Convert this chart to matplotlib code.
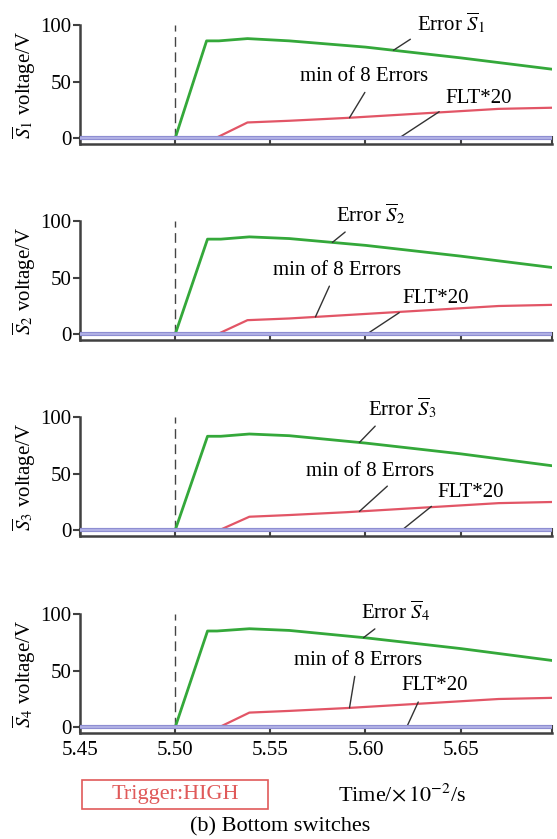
import numpy as np
import matplotlib
matplotlib.use('Agg')
import matplotlib.pyplot as plt
from matplotlib.patches import Rectangle

plt.rcParams['font.family'] = ['Liberation Serif', 'DejaVu Serif']
plt.rcParams['mathtext.fontset'] = 'stix'

# time axis (x 10^-2 s)
tGreen = [[5.45, 5.50, 5.5165, 5.523, 5.538, 5.56, 5.60, 5.65, 5.698],
          [5.45, 5.50, 5.517, 5.524, 5.539, 5.56, 5.60, 5.65, 5.698],
          [5.45, 5.50, 5.517, 5.524, 5.539, 5.56, 5.60, 5.65, 5.698],
          [5.45, 5.50, 5.517, 5.522, 5.539, 5.56, 5.60, 5.65, 5.698]]
errGreen = [[0, 0, 86, 86, 88, 86, 80.5, 71, 61],
            [0, 0, 84, 84, 86, 84.5, 78.5, 69, 59],
            [0, 0, 83, 83, 85, 83.5, 77, 67.5, 57],
            [0, 0, 85, 85, 87, 85.5, 79, 69.5, 59]]

tRed = [[5.45, 5.521, 5.538, 5.56, 5.59, 5.63, 5.67, 5.698],
        [5.45, 5.522, 5.538, 5.56, 5.59, 5.64, 5.67, 5.698],
        [5.45, 5.523, 5.539, 5.56, 5.59, 5.64, 5.67, 5.698],
        [5.45, 5.523, 5.539, 5.56, 5.59, 5.64, 5.67, 5.698]]
minErr = [[0, 0, 14, 15.5, 18, 22, 26, 27],
          [0, 0, 12.5, 14, 17, 22, 25, 26],
          [0, 0, 12, 13.5, 16, 21, 24, 25],
          [0, 0, 13, 14.5, 17, 22, 25, 26]]

tFlt = [5.45, 5.698]
flt = [0, 0]

# annotation spots: (tip x, text x, text y, where the leader meets the text)
errNote = [(5.6147, 5.6447, 102, 0.0), (5.5826, 5.6026, 106, 0.23),
           (5.5968, 5.6195, 108, 0.18), (5.599, 5.6158, 102.5, 0.3)]
minNote = [(5.5916, 5.599, 54.5, 0.54), (5.5737, 5.5853, 56.7, 0.46),
           (5.5968, 5.6026, 52.3, 0.68), (5.5916, 5.5963, 59.4, 0.48)]
fltNote = [(5.6174, 5.6595, 35.5, 0.0), (5.6005, 5.6368, 32, 0.07),
           (5.619, 5.6553, 33.8, 0.0), (5.6216, 5.6363, 36.5, 0.3)]

xTicks = [5.45, 5.50, 5.55, 5.60, 5.65]
xTickLabels = ['5.45', '5.50', '5.55', '5.60', '5.65']

W, H = 557, 839
fig = plt.figure(figsize=(W / 100, H / 100), dpi=100)

axBottoms = [144, 340, 536, 733]
axHeight = 119
left, right = 80, 552

green = '#34a83a'
red = '#e25566'
blue = '#b0b0e4'
spine = '#404040'

for i in range(4):
	ax = fig.add_axes([left / W, 1 - axBottoms[i] / H, (right - left) / W, axHeight / H])
	ax.plot(tGreen[i], errGreen[i], color=green, lw=2, zorder=3)
	ax.plot(tRed[i], minErr[i], color=red, lw=1.6, zorder=3)
	ax.plot(tFlt, flt, color='#8a8ad0', lw=3, zorder=4)
	ax.plot(tFlt, flt, color=blue, lw=1.6, zorder=4)
	ax.plot([5.50, 5.50], [0, 100], color='#444444', lw=1, ls=(0, (7, 4)), zorder=2)

	ax.set_xlim(5.45, 5.698)
	ax.set_ylim(-5, 100)
	for s in ['top', 'right']:
		ax.spines[s].set_visible(False)
	for s in ['left', 'bottom']:
		ax.spines[s].set_color(spine)
		ax.spines[s].set_linewidth(1.8)
	ax.spines['left'].set_bounds(-5, 100)
	ax.set_yticks([0, 50, 100])
	ax.set_xticks(xTicks + [5.698])
	ax.tick_params(axis='y', direction='out', length=5, width=1.5, color=spine, labelsize=15, pad=1)
	ax.tick_params(axis='x', direction='in', length=6, width=1.5, color=spine, labelsize=15, pad=6)
	if i == 3:
		ax.set_xticklabels(xTickLabels + [''])
	else:
		ax.set_xticklabels([])
	ax.set_ylabel(r'$\overline{S}_%d$ voltage/V' % (i + 1), fontsize=15)
	ax.yaxis.set_label_coords(-0.09, 0.5)

	lineProps = dict(arrowstyle='-', color='#333333', lw=1, shrinkA=3, shrinkB=0)
	tx, px, py, rp = errNote[i]
	ax.annotate(r'Error $\overline{S}_%d$' % (i + 1), xy=(tx, np.interp(tx, tGreen[i], errGreen[i])),
		xytext=(px, py), ha='center', va='center', fontsize=15, annotation_clip=False,
		arrowprops=dict(lineProps, relpos=(rp, 0)))
	tx, px, py, rp = minNote[i]
	ax.annotate('min of 8 Errors', xy=(tx, np.interp(tx, tRed[i], minErr[i])),
		xytext=(px, py), ha='center', va='center', fontsize=15,
		arrowprops=dict(lineProps, relpos=(rp, 0)))
	tx, px, py, rp = fltNote[i]
	ax.annotate('FLT*20', xy=(tx, 0), xytext=(px, py), ha='center', va='center', fontsize=15,
		arrowprops=dict(lineProps, relpos=(rp, 0)))

# trigger box and captions
fig.patches.append(Rectangle((82 / W, 1 - 809 / H), 186 / W, 29 / H, transform=fig.transFigure,
	facecolor='white', edgecolor='#e05a5a', lw=1.2))
fig.text(175 / W, 1 - 794 / H, 'Trigger:HIGH', color='#e05a5a', fontsize=16, ha='center', va='center')
fig.text(402 / W, 1 - 795 / H, r'Time/$\times\,10^{-2}$/s', fontsize=16, ha='center', va='center')
fig.text(280 / W, 1 - 827 / H, '(b) Bottom switches', fontsize=16, ha='center', va='center')

fig.savefig('out.png', dpi=100)
